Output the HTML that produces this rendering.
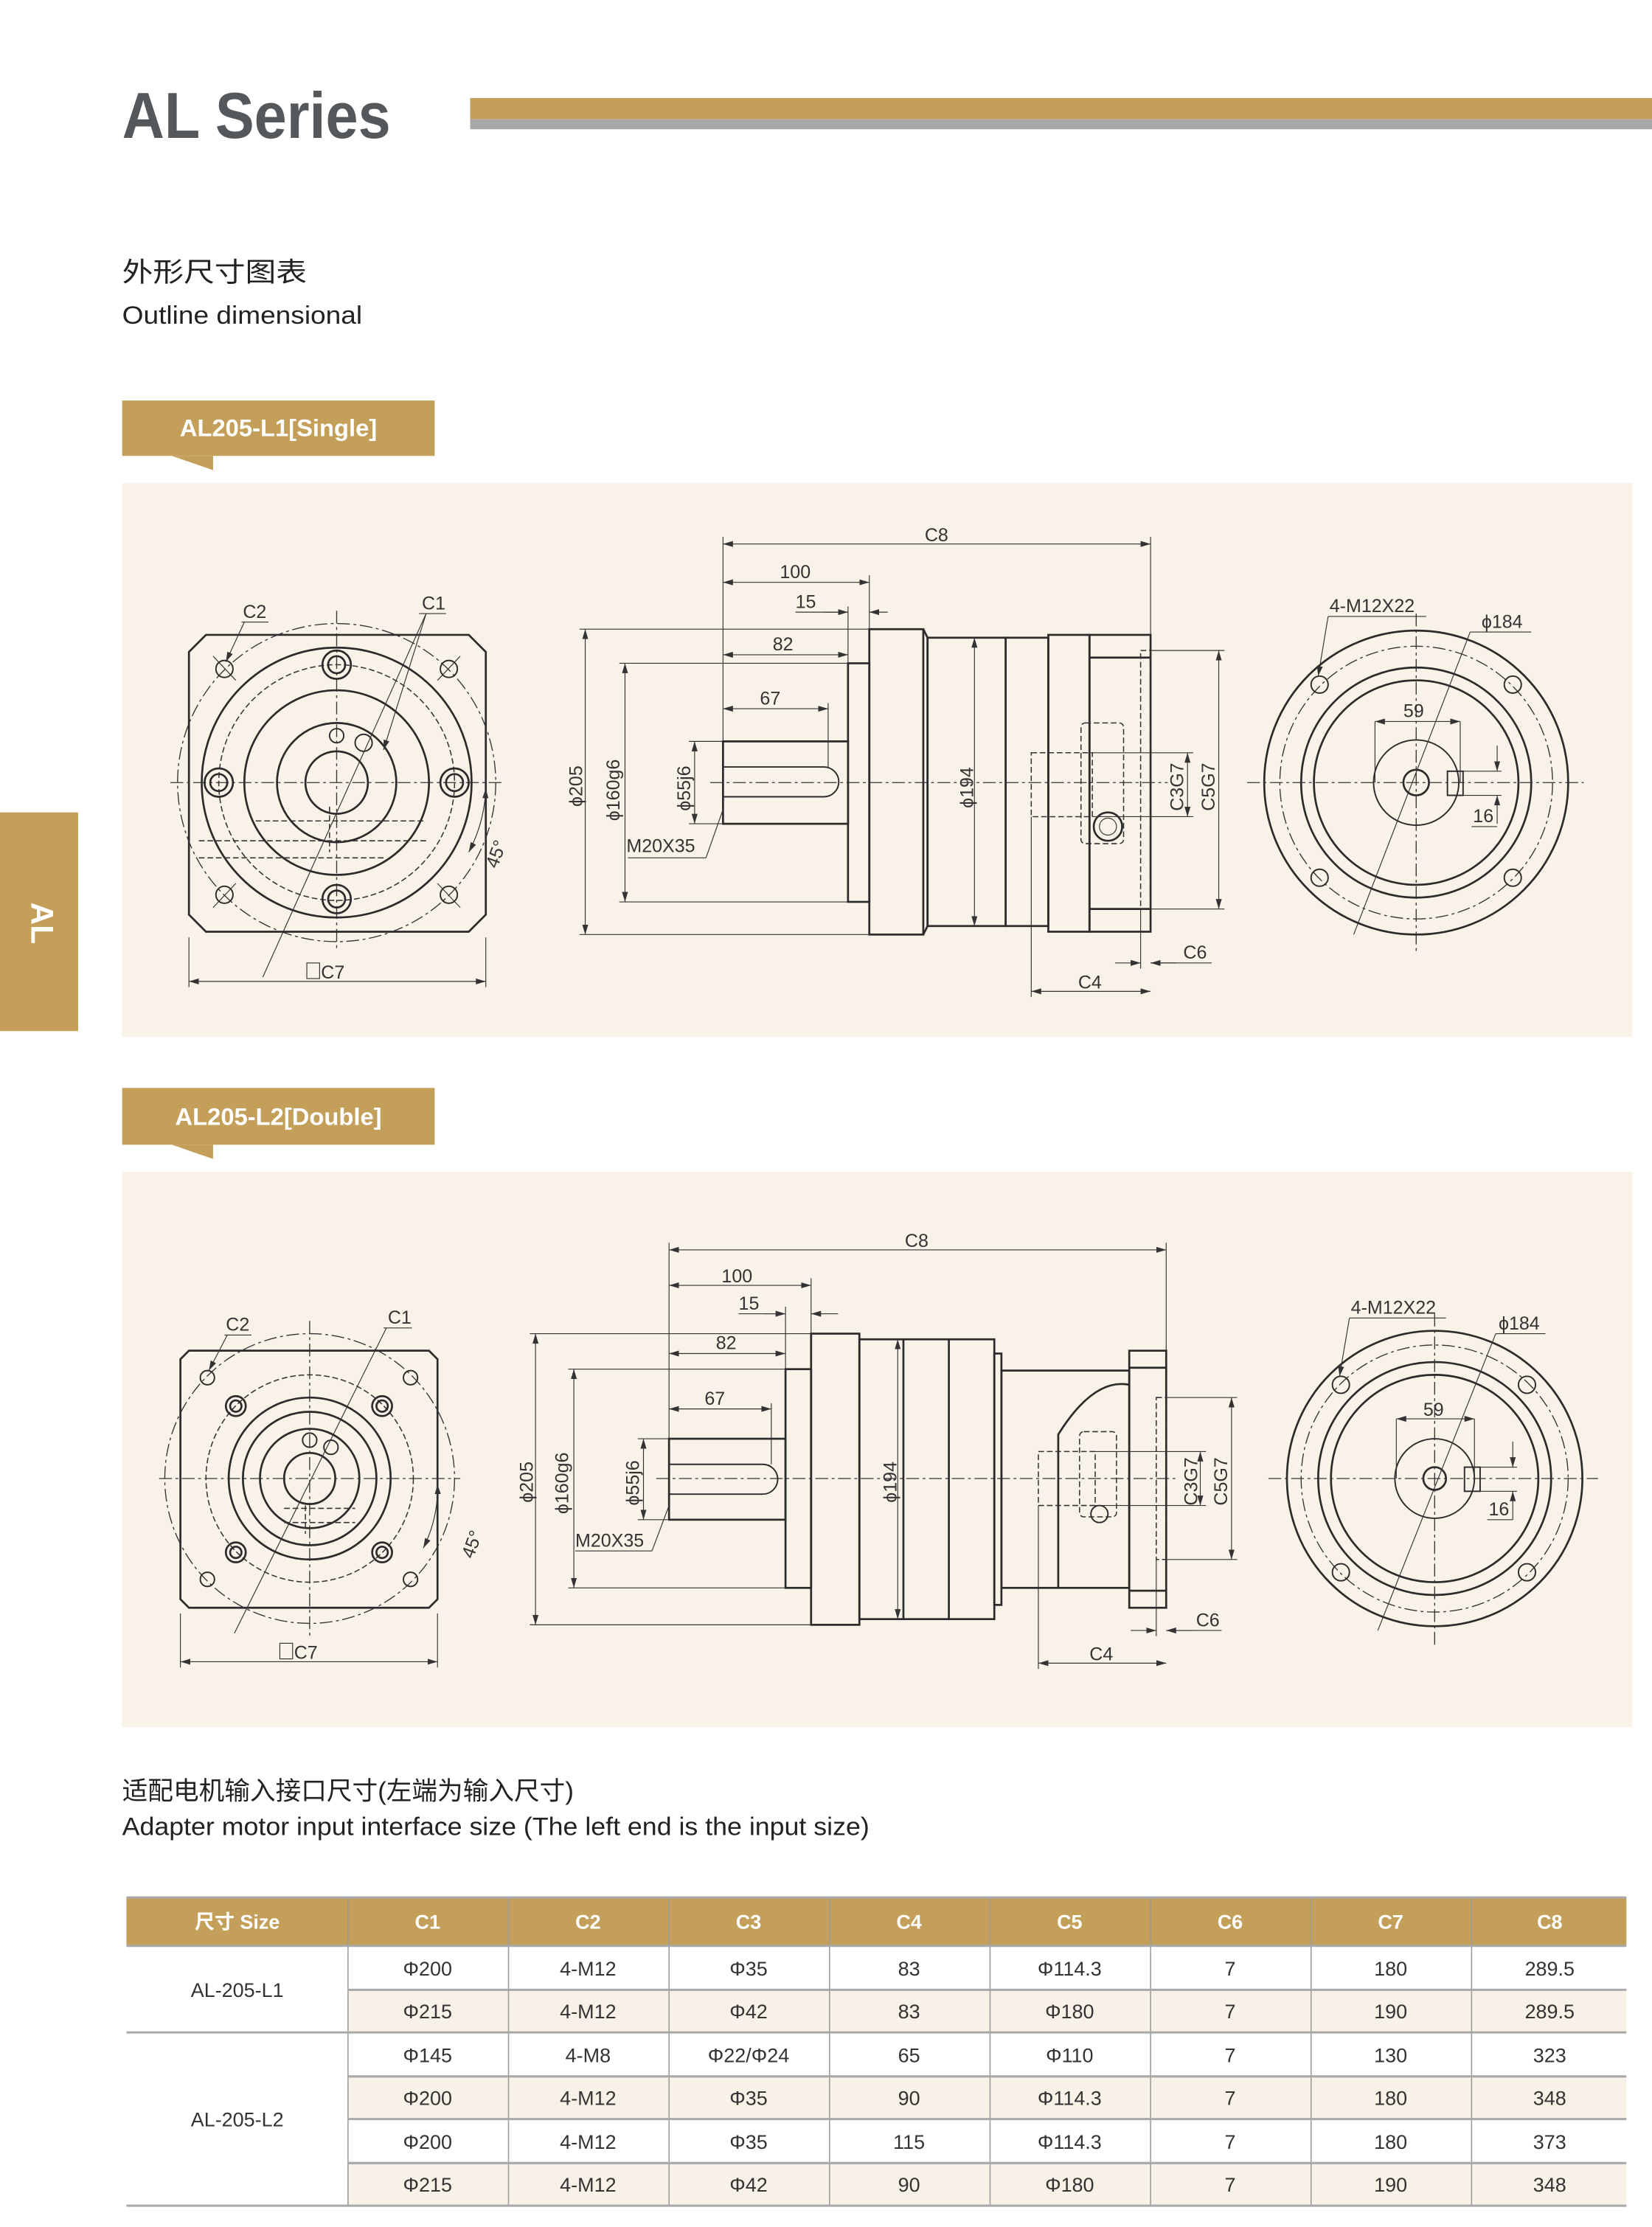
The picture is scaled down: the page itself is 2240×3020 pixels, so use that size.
<!DOCTYPE html>
<html><head><meta charset="utf-8">
<style>
html,body{margin:0;padding:0;background:#fff;}
svg{display:block;}
.k{fill:none;stroke:#2b2b2b;stroke-width:1.4}
.m{fill:none;stroke:#2b2b2b;stroke-width:1}
.t{fill:none;stroke:#333;stroke-width:0.6}
.dd{fill:none;stroke:#333;stroke-width:0.7;stroke-dasharray:9 2.5 2 2.5}
.ds{fill:none;stroke:#333;stroke-width:0.8;stroke-dasharray:4 2}
.a{fill:none;stroke:#333;stroke-width:0.6;marker-start:url(#ar);marker-end:url(#ar)}
.a1{fill:none;stroke:#333;stroke-width:0.6;marker-end:url(#ar)}
text{font-family:"Liberation Sans","Noto Sans CJK SC",sans-serif;}
.lb{font-size:13px;fill:#333;}
.tb{font-size:14px;fill:#333;text-anchor:middle}
</style></head><body>
<svg width="2240" height="3020" viewBox="0 0 1163 1568" xmlns="http://www.w3.org/2000/svg">
<defs>
<marker id="ar" viewBox="0 0 10 10" refX="10" refY="5" markerWidth="7" markerHeight="7" orient="auto-start-reverse" markerUnits="userSpaceOnUse"><path d="M0,2 L10,5 L0,8z" fill="#333"/></marker>
</defs>
<!-- header -->
<text x="86" y="97" font-size="46" font-weight="bold" fill="#55585b" textLength="189" lengthAdjust="spacingAndGlyphs">AL  Series</text>
<rect x="331" y="69" width="832" height="15" fill="#c49f5a"/>
<rect x="331" y="84" width="832" height="7" fill="#a7a8aa"/>
<text x="86" y="198" font-size="19" fill="#222" textLength="130" lengthAdjust="spacingAndGlyphs">外形尺寸图表</text>
<text x="86" y="228" font-size="18" fill="#222" textLength="169" lengthAdjust="spacingAndGlyphs">Outline dimensional</text>
<!-- side tab -->
<rect x="0" y="572" width="55" height="154" fill="#c49f5a"/>
<text x="22" y="650" font-size="22" font-weight="bold" fill="#fff" transform="rotate(90 22 650)" text-anchor="middle">AL</text>
<!-- label 1 -->
<rect x="86" y="282" width="220" height="39" fill="#c49f5a"/>
<path d="M121,321 L150,321 L150,331z" fill="#c49f5a"/>
<text x="196" y="307" font-size="17" font-weight="bold" fill="#fff" text-anchor="middle">AL205-L1[Single]</text>
<rect x="86" y="340" width="1063" height="390" fill="#f9f2e8"/>
<!-- label 2 -->
<rect x="86" y="766" width="220" height="40" fill="#c49f5a"/>
<path d="M121,806 L150,806 L150,816z" fill="#c49f5a"/>
<text x="196" y="792" font-size="17" font-weight="bold" fill="#fff" text-anchor="middle">AL205-L2[Double]</text>
<rect x="86" y="825" width="1063" height="391" fill="#f9f2e8"/>

<!-- ================= DRAWING 1 ================= -->
<g>
<path class="k" d="M145,447 L330,447 L342,459 L342,644 L330,656 L145,656 L133,644 L133,459z"/>
<circle class="dd" cx="237" cy="551" r="112"/>
<circle class="k" cx="237" cy="551" r="95"/>
<circle class="ds" cx="237" cy="551" r="83"/>
<circle class="k" cx="237" cy="551" r="65"/>
<circle class="k" cx="237" cy="551" r="42"/>
<circle class="k" cx="237" cy="551" r="22"/>
<line class="dd" x1="120" y1="551" x2="355" y2="551"/>
<line class="dd" x1="237" y1="430" x2="237" y2="668"/>
<g class="k">
<circle cx="237" cy="468" r="10"/><circle cx="237" cy="468" r="6"/>
<circle cx="237" cy="633" r="10"/><circle cx="237" cy="633" r="6"/>
<circle cx="154" cy="551" r="10"/><circle cx="154" cy="551" r="6"/>
<circle cx="320" cy="551" r="10"/><circle cx="320" cy="551" r="6"/>
</g>
<g class="m">
<circle cx="158" cy="471" r="6"/><circle cx="316" cy="471" r="6"/>
<circle cx="158" cy="630" r="6"/><circle cx="316" cy="630" r="6"/>
<circle cx="237" cy="518" r="5"/><circle cx="256" cy="523" r="6"/>
</g>
<g class="t"><line x1="150" y1="462" x2="166" y2="479"/><line x1="324" y1="462" x2="308" y2="479"/><line x1="150" y1="639" x2="166" y2="622"/><line x1="324" y1="639" x2="308" y2="622"/></g>
<g class="ds"><line x1="180" y1="578" x2="300" y2="578"/><line x1="140" y1="592" x2="300" y2="592"/><line x1="140" y1="604" x2="270" y2="604"/><line x1="232" y1="568" x2="232" y2="600"/></g>
<line class="a1" x1="300" y1="432" x2="270" y2="528"/>
<line class="t" x1="300" y1="432" x2="185" y2="688"/>
<line class="t" x1="295" y1="432" x2="314" y2="432"/>
<text class="lb" x="297" y="429">C1</text>
<line class="t" x1="170" y1="438" x2="189" y2="438"/>
<line class="a1" x1="172" y1="438" x2="159" y2="466"/>
<text class="lb" x="171" y="435">C2</text>
<path class="a" d="M342,555 A105,105 0 0 1 330,600"/>
<text class="lb" x="350" y="612" transform="rotate(-70 350 612)">45°</text>
<line class="t" x1="133" y1="660" x2="133" y2="695"/><line class="t" x1="342" y1="660" x2="342" y2="695"/>
<line class="a" x1="133" y1="691" x2="342" y2="691"/>
<rect x="216" y="678" width="9" height="11" class="t"/>
<text class="lb" x="226" y="689">C7</text>
</g>
<g>
<line class="dd" x1="500" y1="551" x2="822" y2="551"/>
<path class="k" d="M509,522 L597,522 L597,580 L509,580z"/>
<path class="m" d="M509,540 L580,540 A10.5,10.5 0 0 1 580,561 L509,561"/>
<rect class="k" x="597" y="467" width="15" height="168"/>
<rect class="k" x="612" y="443" width="38" height="215"/>
<path class="k" d="M650,443 L653,449 L653,652 L650,658"/>
<rect class="k" x="653" y="449" width="55" height="203"/>
<rect class="k" x="708" y="449" width="30" height="203"/>
<rect class="k" x="738" y="447" width="29" height="209"/>
<rect class="k" x="767" y="447" width="43" height="209"/>
<line class="k" x1="767" y1="463" x2="810" y2="463"/><line class="k" x1="767" y1="640" x2="810" y2="640"/>
<g class="ds"><rect x="803" y="458" width="7" height="182"/><rect x="726" y="530" width="43" height="45"/><rect x="761" y="509" width="30" height="85" rx="3"/></g>
<circle class="k" cx="780" cy="582" r="10"/><circle class="t" cx="780" cy="582" r="6"/>
<g class="t">
<line x1="509" y1="378" x2="509" y2="522"/><line x1="810" y1="378" x2="810" y2="447"/>
<line x1="612" y1="405" x2="612" y2="443"/><line x1="597" y1="427" x2="597" y2="467"/>
<line x1="583" y1="495" x2="583" y2="540"/>
<line x1="408" y1="443" x2="612" y2="443"/><line x1="408" y1="658" x2="612" y2="658"/>
<line x1="436" y1="467" x2="597" y2="467"/><line x1="436" y1="635" x2="597" y2="635"/>
<line x1="485" y1="522" x2="509" y2="522"/><line x1="485" y1="580" x2="509" y2="580"/>
<line x1="810" y1="458" x2="862" y2="458"/><line x1="810" y1="640" x2="862" y2="640"/>
<line x1="769" y1="530" x2="840" y2="530"/><line x1="769" y1="575" x2="840" y2="575"/>
<line x1="726" y1="575" x2="726" y2="702"/><line x1="803" y1="640" x2="803" y2="682"/>
<line x1="442" y1="604" x2="497" y2="604"/><line x1="497" y1="604" x2="509" y2="570"/>
</g>
<line class="a" x1="509" y1="383" x2="810" y2="383"/><text class="lb" x="651" y="381">C8</text>
<line class="a" x1="509" y1="410" x2="612" y2="410"/><text class="lb" x="549" y="407">100</text>
<line class="t" x1="560" y1="431" x2="597" y2="431"/><line class="a1" x1="580" y1="431" x2="597" y2="431"/><line class="a1" x1="625" y1="431" x2="612" y2="431"/><text class="lb" x="560" y="428">15</text>
<line class="a" x1="509" y1="461" x2="597" y2="461"/><text class="lb" x="544" y="458">82</text>
<line class="a" x1="509" y1="499" x2="583" y2="499"/><text class="lb" x="535" y="496">67</text>
<line class="a" x1="412" y1="443" x2="412" y2="658"/><text class="lb" x="410" y="568" transform="rotate(-90 410 568)">ϕ205</text>
<line class="a" x1="440" y1="467" x2="440" y2="635"/><text class="lb" x="436" y="578" transform="rotate(-90 436 578)">ϕ160g6</text>
<line class="a" x1="489" y1="522" x2="489" y2="580"/><text class="lb" x="486" y="571" transform="rotate(-90 486 571)">ϕ55j6</text>
<line class="a" x1="686" y1="449" x2="686" y2="652"/><text class="lb" x="685" y="569" transform="rotate(-90 685 569)">ϕ194</text>
<line class="a" x1="836" y1="530" x2="836" y2="575"/><text class="lb" x="833" y="571" transform="rotate(-90 833 571)">C3G7</text>
<line class="a" x1="858" y1="458" x2="858" y2="640"/><text class="lb" x="855" y="571" transform="rotate(-90 855 571)">C5G7</text>
<text class="lb" x="441" y="600">M20X35</text>
<line class="a1" x1="785" y1="678" x2="803" y2="678"/><line class="a1" x1="828" y1="678" x2="810" y2="678"/><line class="t" x1="810" y1="678" x2="853" y2="678"/><text class="lb" x="833" y="675">C6</text>
<line class="a" x1="726" y1="698" x2="810" y2="698"/><text class="lb" x="759" y="696">C4</text>
</g>
<g>
<circle class="k" cx="997" cy="551" r="107"/>
<circle class="dd" cx="997" cy="551" r="96"/>
<circle class="k" cx="997" cy="551" r="81"/>
<circle class="k" cx="997" cy="551" r="72"/>
<circle class="m" cx="997" cy="551" r="30"/>
<circle class="k" cx="997" cy="551" r="9"/>
<rect class="m" x="1019" y="543" width="11" height="17"/>
<line class="dd" x1="878" y1="551" x2="1115" y2="551"/>
<line class="dd" x1="997" y1="432" x2="997" y2="672"/>
<g class="m"><circle cx="929" cy="482" r="6"/><circle cx="1065" cy="482" r="6"/><circle cx="929" cy="618" r="6"/><circle cx="1065" cy="618" r="6"/></g>
<line class="t" x1="1035" y1="445" x2="953" y2="658"/>
<line class="t" x1="1035" y1="445" x2="1078" y2="445"/><text class="lb" x="1043" y="442">ϕ184</text>
<line class="t" x1="935" y1="434" x2="1004" y2="434"/><text class="lb" x="936" y="431">4-M12X22</text>
<line class="a1" x1="935" y1="434" x2="928" y2="476"/>
<line class="t" x1="968" y1="508" x2="968" y2="551"/><line class="t" x1="1028" y1="508" x2="1028" y2="551"/>
<line class="a" x1="968" y1="508" x2="1028" y2="508"/><text class="lb" x="988" y="505">59</text>
<line class="t" x1="1030" y1="543" x2="1057" y2="543"/><line class="t" x1="1030" y1="560" x2="1057" y2="560"/>
<line class="a1" x1="1054" y1="525" x2="1054" y2="543"/><line class="a1" x1="1054" y1="580" x2="1054" y2="560"/>
<line class="t" x1="1036" y1="582" x2="1054" y2="582"/><text class="lb" x="1037" y="579">16</text>
</g>

<!-- ================= DRAWING 2 ================= -->
<g>
<path class="k" d="M133,951 L302,951 L308,957 L308,1126 L302,1132 L133,1132 L127,1126 L127,957z"/>
<circle class="dd" cx="218" cy="1041" r="102"/>
<circle class="ds" cx="218" cy="1041" r="73"/>
<circle class="k" cx="218" cy="1041" r="57"/>
<circle class="k" cx="218" cy="1041" r="47"/>
<circle class="k" cx="218" cy="1041" r="35"/>
<circle class="k" cx="218" cy="1041" r="18"/>
<line class="dd" x1="112" y1="1041" x2="324" y2="1041"/>
<line class="dd" x1="218" y1="930" x2="218" y2="1152"/>
<g class="k"><circle cx="166" cy="990" r="7"/><circle cx="166" cy="990" r="4"/><circle cx="269" cy="990" r="7"/><circle cx="269" cy="990" r="4"/><circle cx="166" cy="1093" r="7"/><circle cx="166" cy="1093" r="4"/><circle cx="269" cy="1093" r="7"/><circle cx="269" cy="1093" r="4"/></g>
<g class="m"><circle cx="146" cy="970" r="5"/><circle cx="289" cy="970" r="5"/><circle cx="146" cy="1112" r="5"/><circle cx="289" cy="1112" r="5"/><circle cx="218" cy="1014" r="5"/><circle cx="233" cy="1019" r="5"/></g>
<g class="ds"><line x1="200" y1="1062" x2="250" y2="1062"/><line x1="200" y1="1072" x2="250" y2="1072"/><line x1="215" y1="1060" x2="215" y2="1080"/></g>
<line class="t" x1="272" y1="935" x2="165" y2="1150"/>
<line class="t" x1="270" y1="935" x2="290" y2="935"/><text class="lb" x="273" y="932">C1</text>
<line class="t" x1="158" y1="940" x2="177" y2="940"/><line class="a1" x1="160" y1="940" x2="147" y2="965"/><text class="lb" x="159" y="937">C2</text>
<path class="a" d="M308,1045 A95,95 0 0 1 298,1090"/>
<text class="lb" x="333" y="1098" transform="rotate(-70 333 1098)">45°</text>
<line class="t" x1="127" y1="1136" x2="127" y2="1174"/><line class="t" x1="308" y1="1136" x2="308" y2="1174"/>
<line class="a" x1="127" y1="1170" x2="308" y2="1170"/>
<rect x="197" y="1157" width="9" height="11" class="t"/><text class="lb" x="207" y="1168">C7</text>
</g>
<g>
<line class="dd" x1="462" y1="1041" x2="830" y2="1041"/>
<rect class="k" x="471" y="1013" width="82" height="57"/>
<path class="m" d="M471,1031 L537,1031 A10.5,10.5 0 0 1 537,1052 L471,1052"/>
<rect class="k" x="553" y="964" width="18" height="154"/>
<rect class="k" x="571" y="939" width="34" height="205"/>
<rect class="k" x="605" y="943" width="95" height="197"/>
<line class="k" x1="636" y1="943" x2="636" y2="1140"/><line class="k" x1="668" y1="943" x2="668" y2="1140"/>
<rect class="k" x="700" y="953" width="5" height="177"/>
<rect class="k" x="705" y="965" width="90" height="153"/>
<path class="k" d="M745,1118 L745,1010 Q770,970 795,975"/>
<rect class="k" x="795" y="951" width="26" height="181"/>
<line class="k" x1="795" y1="963" x2="821" y2="963"/><line class="k" x1="795" y1="1120" x2="821" y2="1120"/>
<g class="ds"><rect x="814" y="984" width="7" height="114"/><rect x="731" y="1022" width="40" height="38"/><rect x="760" y="1008" width="26" height="60" rx="3"/></g>
<circle class="m" cx="774" cy="1066" r="6"/>
<g class="t">
<line x1="471" y1="875" x2="471" y2="1013"/><line x1="821" y1="875" x2="821" y2="951"/>
<line x1="571" y1="900" x2="571" y2="939"/><line x1="553" y1="920" x2="553" y2="964"/>
<line x1="543" y1="988" x2="543" y2="1031"/>
<line x1="373" y1="939" x2="571" y2="939"/><line x1="373" y1="1144" x2="571" y2="1144"/>
<line x1="400" y1="964" x2="553" y2="964"/><line x1="400" y1="1118" x2="553" y2="1118"/>
<line x1="449" y1="1013" x2="471" y2="1013"/><line x1="449" y1="1070" x2="471" y2="1070"/>
<line x1="821" y1="984" x2="871" y2="984"/><line x1="821" y1="1098" x2="871" y2="1098"/>
<line x1="771" y1="1022" x2="849" y2="1022"/><line x1="771" y1="1060" x2="849" y2="1060"/>
<line x1="731" y1="1060" x2="731" y2="1175"/><line x1="814" y1="1098" x2="814" y2="1152"/>
<line x1="405" y1="1092" x2="459" y2="1092"/><line x1="459" y1="1092" x2="471" y2="1060"/>
</g>
<line class="a" x1="471" y1="880" x2="821" y2="880"/><text class="lb" x="637" y="878">C8</text>
<line class="a" x1="471" y1="905" x2="571" y2="905"/><text class="lb" x="508" y="903">100</text>
<line class="t" x1="520" y1="925" x2="553" y2="925"/><line class="a1" x1="538" y1="925" x2="553" y2="925"/><line class="a1" x1="590" y1="925" x2="571" y2="925"/><text class="lb" x="520" y="922">15</text>
<line class="a" x1="471" y1="953" x2="553" y2="953"/><text class="lb" x="504" y="950">82</text>
<line class="a" x1="471" y1="992" x2="543" y2="992"/><text class="lb" x="496" y="989">67</text>
<line class="a" x1="377" y1="939" x2="377" y2="1144"/><text class="lb" x="375" y="1058" transform="rotate(-90 375 1058)">ϕ205</text>
<line class="a" x1="404" y1="964" x2="404" y2="1118"/><text class="lb" x="400" y="1066" transform="rotate(-90 400 1066)">ϕ160g6</text>
<line class="a" x1="453" y1="1013" x2="453" y2="1070"/><text class="lb" x="450" y="1060" transform="rotate(-90 450 1060)">ϕ55j6</text>
<line class="a" x1="632" y1="943" x2="632" y2="1140"/><text class="lb" x="631" y="1058" transform="rotate(-90 631 1058)">ϕ194</text>
<line class="a" x1="845" y1="1022" x2="845" y2="1060"/><text class="lb" x="843" y="1060" transform="rotate(-90 843 1060)">C3G7</text>
<line class="a" x1="867" y1="984" x2="867" y2="1098"/><text class="lb" x="864" y="1060" transform="rotate(-90 864 1060)">C5G7</text>
<text class="lb" x="405" y="1089">M20X35</text>
<line class="a1" x1="796" y1="1148" x2="814" y2="1148"/><line class="a1" x1="840" y1="1148" x2="821" y2="1148"/><line class="t" x1="821" y1="1148" x2="860" y2="1148"/><text class="lb" x="842" y="1145">C6</text>
<line class="a" x1="731" y1="1171" x2="821" y2="1171"/><text class="lb" x="767" y="1169">C4</text>
</g>
<g>
<circle class="k" cx="1010" cy="1041" r="104"/>
<circle class="dd" cx="1010" cy="1041" r="94"/>
<circle class="k" cx="1010" cy="1041" r="82"/>
<circle class="k" cx="1010" cy="1041" r="73"/>
<circle class="m" cx="1010" cy="1041" r="28"/>
<circle class="k" cx="1010" cy="1041" r="8"/>
<rect class="m" x="1031" y="1033" width="11" height="17"/>
<line class="dd" x1="893" y1="1041" x2="1125" y2="1041"/>
<line class="dd" x1="1010" y1="925" x2="1010" y2="1160"/>
<g class="m"><circle cx="944" cy="975" r="6"/><circle cx="1075" cy="975" r="6"/><circle cx="944" cy="1107" r="6"/><circle cx="1075" cy="1107" r="6"/></g>
<line class="t" x1="1053" y1="939" x2="970" y2="1148"/>
<line class="t" x1="1053" y1="939" x2="1088" y2="939"/><text class="lb" x="1055" y="936">ϕ184</text>
<line class="t" x1="950" y1="928" x2="1018" y2="928"/><text class="lb" x="951" y="925">4-M12X22</text>
<line class="a1" x1="950" y1="928" x2="943" y2="969"/>
<line class="t" x1="983" y1="999" x2="983" y2="1041"/><line class="t" x1="1038" y1="999" x2="1038" y2="1041"/>
<line class="a" x1="983" y1="999" x2="1038" y2="999"/><text class="lb" x="1002" y="997">59</text>
<line class="t" x1="1042" y1="1033" x2="1068" y2="1033"/><line class="t" x1="1042" y1="1050" x2="1068" y2="1050"/>
<line class="a1" x1="1065" y1="1015" x2="1065" y2="1033"/><line class="a1" x1="1065" y1="1070" x2="1065" y2="1050"/>
<line class="t" x1="1047" y1="1070" x2="1065" y2="1070"/><text class="lb" x="1048" y="1067">16</text>
</g>

<!-- text above table -->
<text x="86" y="1267" font-size="18" fill="#222">适配电机输入接口尺寸(左端为输入尺寸)</text>
<text x="86" y="1292" font-size="18" fill="#222" textLength="526" lengthAdjust="spacingAndGlyphs">Adapter motor input interface size (The left end is the input size)</text>

<!-- table -->
<rect x="89" y="1336" width="1056" height="34" fill="#c49f5a"/>
<rect x="245" y="1401" width="900" height="30" fill="#f8f1e7"/>
<rect x="245" y="1462" width="900" height="30" fill="#f8f1e7"/>
<rect x="245" y="1523" width="900" height="30" fill="#f8f1e7"/>
<g stroke="#999" stroke-width="0.8">
<line x1="245" y1="1336" x2="245" y2="1553"/><line x1="358" y1="1336" x2="358" y2="1553"/><line x1="471" y1="1336" x2="471" y2="1553"/><line x1="584" y1="1336" x2="584" y2="1553"/><line x1="697" y1="1336" x2="697" y2="1553"/><line x1="810" y1="1336" x2="810" y2="1553"/><line x1="923" y1="1336" x2="923" y2="1553"/><line x1="1036" y1="1336" x2="1036" y2="1553"/>
</g>
<g stroke="#a8a8a8" stroke-width="1.6">
<line x1="89" y1="1336" x2="1145" y2="1336"/><line x1="89" y1="1370" x2="1145" y2="1370"/>
<line x1="245" y1="1401" x2="1145" y2="1401"/><line x1="89" y1="1431" x2="1145" y2="1431"/>
<line x1="245" y1="1462" x2="1145" y2="1462"/><line x1="245" y1="1492" x2="1145" y2="1492"/><line x1="245" y1="1523" x2="1145" y2="1523"/>
<line x1="89" y1="1553" x2="1145" y2="1553"/>
</g>
<g font-size="14" font-weight="bold" fill="#fff" text-anchor="middle">
<text x="167" y="1358">尺寸 Size</text><text x="301" y="1358">C1</text><text x="414" y="1358">C2</text><text x="527" y="1358">C3</text><text x="640" y="1358">C4</text><text x="753" y="1358">C5</text><text x="866" y="1358">C6</text><text x="979" y="1358">C7</text><text x="1091" y="1358">C8</text>
</g>
<g class="tb">
<text x="167" y="1406">AL-205-L1</text><text x="167" y="1497">AL-205-L2</text>
<text x="301" y="1391">Φ200</text><text x="414" y="1391">4-M12</text><text x="527" y="1391">Φ35</text><text x="640" y="1391">83</text><text x="753" y="1391">Φ114.3</text><text x="866" y="1391">7</text><text x="979" y="1391">180</text><text x="1091" y="1391">289.5</text>
<text x="301" y="1421">Φ215</text><text x="414" y="1421">4-M12</text><text x="527" y="1421">Φ42</text><text x="640" y="1421">83</text><text x="753" y="1421">Φ180</text><text x="866" y="1421">7</text><text x="979" y="1421">190</text><text x="1091" y="1421">289.5</text>
<text x="301" y="1452">Φ145</text><text x="414" y="1452">4-M8</text><text x="527" y="1452">Φ22/Φ24</text><text x="640" y="1452">65</text><text x="753" y="1452">Φ110</text><text x="866" y="1452">7</text><text x="979" y="1452">130</text><text x="1091" y="1452">323</text>
<text x="301" y="1482">Φ200</text><text x="414" y="1482">4-M12</text><text x="527" y="1482">Φ35</text><text x="640" y="1482">90</text><text x="753" y="1482">Φ114.3</text><text x="866" y="1482">7</text><text x="979" y="1482">180</text><text x="1091" y="1482">348</text>
<text x="301" y="1513">Φ200</text><text x="414" y="1513">4-M12</text><text x="527" y="1513">Φ35</text><text x="640" y="1513">115</text><text x="753" y="1513">Φ114.3</text><text x="866" y="1513">7</text><text x="979" y="1513">180</text><text x="1091" y="1513">373</text>
<text x="301" y="1543">Φ215</text><text x="414" y="1543">4-M12</text><text x="527" y="1543">Φ42</text><text x="640" y="1543">90</text><text x="753" y="1543">Φ180</text><text x="866" y="1543">7</text><text x="979" y="1543">190</text><text x="1091" y="1543">348</text>
</g>
</svg>
</body></html>
